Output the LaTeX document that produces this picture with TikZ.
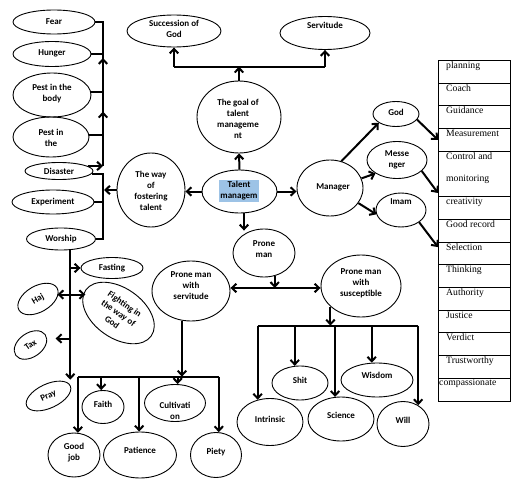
\documentclass[tikz,border=0pt]{standalone}
\usepackage{fontspec}
\setmainfont{Carlito}
\newfontfamily\tabfont{Liberation Serif}
\usetikzlibrary{shapes.geometric,arrows.meta,calc}
\definecolor{hl}{RGB}{157,195,230}
\begin{document}
\begin{tikzpicture}[x=1pt,y=-1pt,
 ellb/.style 2 args={draw, ellipse, line width=0.9pt, inner sep=0pt, minimum width=#1pt, minimum height=#2pt},
 txt/.style={font=\fontsize{9}{11}\selectfont\bfseries, align=center, inner sep=0pt},
 ln/.style={line width=2pt},
 arr/.style={line width=2pt, -{Straight Barb[length=4.5pt,width=8.5pt]}},
 barr/.style={line width=2pt, {Straight Barb[length=4.5pt,width=8.5pt]}-{Straight Barb[length=4.5pt,width=8.5pt]}},
 cell/.style={draw, line width=0.8pt, minimum width=72pt, inner sep=0pt, anchor=north west},
 ct/.style={font=\tabfont\fontsize{9.7}{11}\selectfont, anchor=base west, inner sep=0pt}]
\fill[white] (0,0) rectangle (523,487);
\useasboundingbox (0,0) rectangle (523,487);

% ---------- left column ----------
\node[ellb={82}{24}] (fear) at (54,22) {};
\node[txt] (fearT) at (54,22) {Fear};
\node[ellb={78}{25}] (hunger) at (52,54) {};
\node[txt] (hungerT) at (52,53) {Hunger};
\node[ellb={78}{44}] (pestbody) at (52,95) {};
\node[txt] (pestbodyT) at (52,94) {Pest in the\\body};
\node[ellb={76}{40}] (pestthe) at (51,137) {};
\node[txt] (pesttheT) at (51,138) {Pest in\\the};
\node[ellb={68}{17}] (disaster) at (59,171) {};
\node[txt] (disasterT) at (59,171) {Disaster};
\node[ellb={82}{24}] (experiment) at (53,202) {};
\node[txt] (experimentT) at (53,202) {Experiment};
\node[ellb={69}{22}] (worship) at (61,239) {};
\node[txt] (worshipT) at (61,239) {Worship};

% ---------- centre ----------
\node[ellb={68}{74}] (way) at (151,190) {};
\node[txt] (wayT) at (151,191) {The way\\of\\fostering\\talent};
\node[ellb={75}{43}] (talent) at (239.5,191.5) {};
\node[txt, fill=hl, inner xsep=1pt, inner ysep=1.5pt] (talentT) at (239,191) {Talent\\managem};
\node[ellb={84}{72}] (goal) at (239,117) {};
\node[txt] (goalT) at (238,119) {The goal of\\talent\\manageme\\nt};
\node[ellb={94}{32}] (succ) at (174,31) {};
\node[txt] (succT) at (174,29) {Succession of\\God};
\node[ellb={90}{33}] (servt) at (325,33) {};
\node[txt] (servtT) at (325,25) {Servitude};

% ---------- manager ----------
\node[ellb={66}{56}] (manager) at (330,188) {};
\node[txt] (managerT) at (333,187) {Manager};
\node[ellb={46}{25}] (god) at (396,114) {};
\node[txt] (godT) at (396,112) {God};
\node[ellb={60}{37}] (mess) at (397,160) {};
\node[txt] (messT) at (397,160) {Messe\\nger};
\node[ellb={50}{34}] (imam) at (401,210) {};
\node[txt] (imamT) at (401,202) {Imam};

% ---------- prone man ----------
\node[ellb={62}{48}] (prone) at (264,253) {};
\node[txt] (proneT) at (264,249) {Prone\\man};
\node[ellb={78}{60}] (pserv) at (191,291) {};
\node[txt] (pservT) at (191,286) {Prone man\\with\\servitude};
\node[ellb={80}{62}] (psusc) at (361,286) {};
\node[txt] (psuscT) at (361,283) {Prone man\\with\\susceptible};

\node[ellb={56}{34}] (shit) at (300,383) {};
\node[txt] (shitT) at (300,380) {Shit};
\node[ellb={72}{34}] (wisdom) at (377,380) {};
\node[txt] (wisdomT) at (377,375) {Wisdom};
\node[ellb={66}{47}] (intrinsic) at (270,422) {};
\node[txt] (intrinsicT) at (270,419) {Intrinsic};
\node[ellb={66}{44}] (science) at (341,419) {};
\node[txt] (scienceT) at (341,415) {Science};
\node[ellb={52}{45}] (will) at (403,424) {};
\node[txt] (willT) at (403,420) {Will};

\node[ellb={42}{33}] (faith) at (103,407) {};
\node[txt] (faithT) at (103,404) {Faith};
\node[ellb={61}{37}] (cultiv) at (175,403) {};
\node[txt] (cultivT) at (175,411) {Cultivati\\on};
\node[ellb={52}{44}] (goodjob) at (74,455) {};
\node[txt] (goodjobT) at (74,452.5) {Good\\job};
\node[ellb={73}{46}] (patience) at (140,455) {};
\node[txt] (patienceT) at (140,450) {Patience};
\node[ellb={51}{45}] (piety) at (216,455) {};
\node[txt] (pietyT) at (216,452) {Piety};

% ---------- worship children ----------
\node[ellb={62}{21}] (fasting) at (112,268) {};
\node[txt] (fastingT) at (112,268) {Fasting};
\node[ellb={80}{50}, txt, rotate=-35] (fighting) at (118.5,313) {Fighting in\\the way of\\God};
\node[ellb={44}{26}, txt, rotate=30] (haj) at (38,299) {Haj};
\node[ellb={36}{24}, txt, rotate=35] (tax) at (30.5,345) {Tax};
\node[ellb={48}{24}, txt, rotate=25] (pray) at (48.5,396) {Pray};

% ---------- table ----------
\foreach \n/\y/\h in {1/60/22.7,2/82.7/22.7,3/105.4/22.7,4/128.1/22.7,5/150.8/45.4,6/196.2/22.7,7/218.9/22.7,8/241.6/22.7,9/264.3/22.7,10/287/22.7,11/309.7/22.7,12/332.4/22.7,13/355.1/22.7,14/377.8/22.7}
  \node[cell, minimum height=\h pt] (r\n) at (438,\y) {};
\foreach \n/\s in {1/planning,2/Coach,3/Guidance,4/Measurement,6/creativity,7/Good record,8/Selection,9/Thinking,10/Authority,11/Justice,12/Verdict,13/Trustworthy}
  \node[ct] (t\n) at ($(r\n.north west)+(8,8.5)$) {\s};
\node[ct] (t5a) at ($(r5.north west)+(8,8.5)$) {Control and};
\node[ct] (t5b) at ($(r5.north west)+(8,30.5)$) {monitoring};
\node[ct] (t14) at ($(r14.north west)+(1,8)$) {compassionate};

% ---------- connectors: left brackets ----------
\coordinate (bx) at (103,0);
\coordinate (ub) at (bx |- disaster.10);
\draw[ln] (fear.east) -| (ub);
\draw[ln] (hunger.east) -- (hunger.east -| bx);
\draw[ln] (pestbody.5) -- (pestbody.5 -| bx);
\draw[ln] (pestthe.3) -- (pestthe.3 -| bx);
\draw[arr] (disaster.10) -- (ub);
\draw[arr] ($(bx |- hunger.east)+(0,12)$) -- ($(bx |- hunger.east)+(0,4)$);
\draw[arr] ($(bx |- pestbody.5)+(0,28)$) -- ($(bx |- pestbody.5)+(0,20)$);
\draw[ln] (disaster.-5) -| (bx |- worship.east) -- (worship.east);
\draw[ln] (experiment.east) -- (experiment.east -| bx);
\draw[arr] (way.west) -- ($(way.west -| bx)+(1,0)$);

% ---------- goal ----------
\coordinate (gj) at ($(goal.north)+(0,-14)$);
\draw[arr] (goal.north) -- (gj);
\draw[ln] (gj -| succ.south) -- (gj -| servt.south);
\draw[arr] (gj -| succ.south) -- (succ.south);
\draw[arr] (gj -| servt.south) -- (servt.south);

% ---------- talent ----------
\draw[arr] (talent.west) -- (talent.west -| way.east);
\draw[arr] (talent.north) -- (goal.south);
\draw[arr] (talent.east) -- (talent.east -| manager.west);
\draw[arr] ($(talent.south)+(4.5,0)$) -- ($(prone.north)+(-20,2)$);

% ---------- manager ----------
\draw[arr] (manager.67) -- (god.207);
\draw[arr] (manager.17) -- (mess.212);
\draw[arr] (manager.-28) -- (imam.190);
\draw[arr] (god.-15) -- (r4.west);
\draw[arr] (mess.-24) -- ($(r5.south west)+(0,-4)$);
\draw[arr] (imam.-34) -- ($(r8.north west)+(0,5.5)$);

% ---------- prone ----------
\coordinate (pj) at ($(prone.-65)+(0,12)$);
\draw[arr] (prone.-65) -- (pj);
\draw[barr] (pj -| pserv.east) -- (pj -| psusc.west);

\coordinate (sj) at ($(psusc.214)+(0,19)$);
\draw[arr] (psusc.214) -- (sj);
\draw[ln] (sj -| intrinsic.119) -- (sj -| will.51);
\draw[arr] (sj -| intrinsic.119) -- (intrinsic.119);
\draw[arr] (sj -| shit.107) -- (shit.107);
\draw[arr] (sj -| science.105) -- (science.105);
\draw[arr] (sj -| wisdom.107) -- (wisdom.107);
\draw[arr] (sj -| will.51) -- (will.51);

\coordinate (vj) at ($(pserv.253)+(0,56)$);
\draw[arr] (pserv.253) -- (vj);
\draw[ln] (vj -| goodjob.80) -- (vj -| piety.83);
\draw[arr] (vj -| goodjob.80) -- (goodjob.80);
\draw[arr] (vj -| faith.96) -- (faith.96);
\draw[arr] (vj -| patience.92) -- (patience.92);
\draw[arr] (vj -| cultiv.82) -- (cultiv.82);
\draw[arr] (vj -| piety.83) -- (piety.83);

% ---------- worship ----------
\coordinate (wv) at (worship.-50);
\draw[arr] (wv) -- ($(wv |- pray.north)+(0,-5)$);
\draw[arr] (fasting.west -| wv) -- (fasting.west);
\coordinate (hj) at ($(wv)+(0,44.5)$);
\draw[barr] (hj -| haj.east) -- (hj -| fighting.west);
\coordinate (tj) at ($(wv)+(0,88.5)$);
\draw[arr] (tj) -- ($(tj -| tax.east)+(10,0)$);
\end{tikzpicture}
\end{document}
